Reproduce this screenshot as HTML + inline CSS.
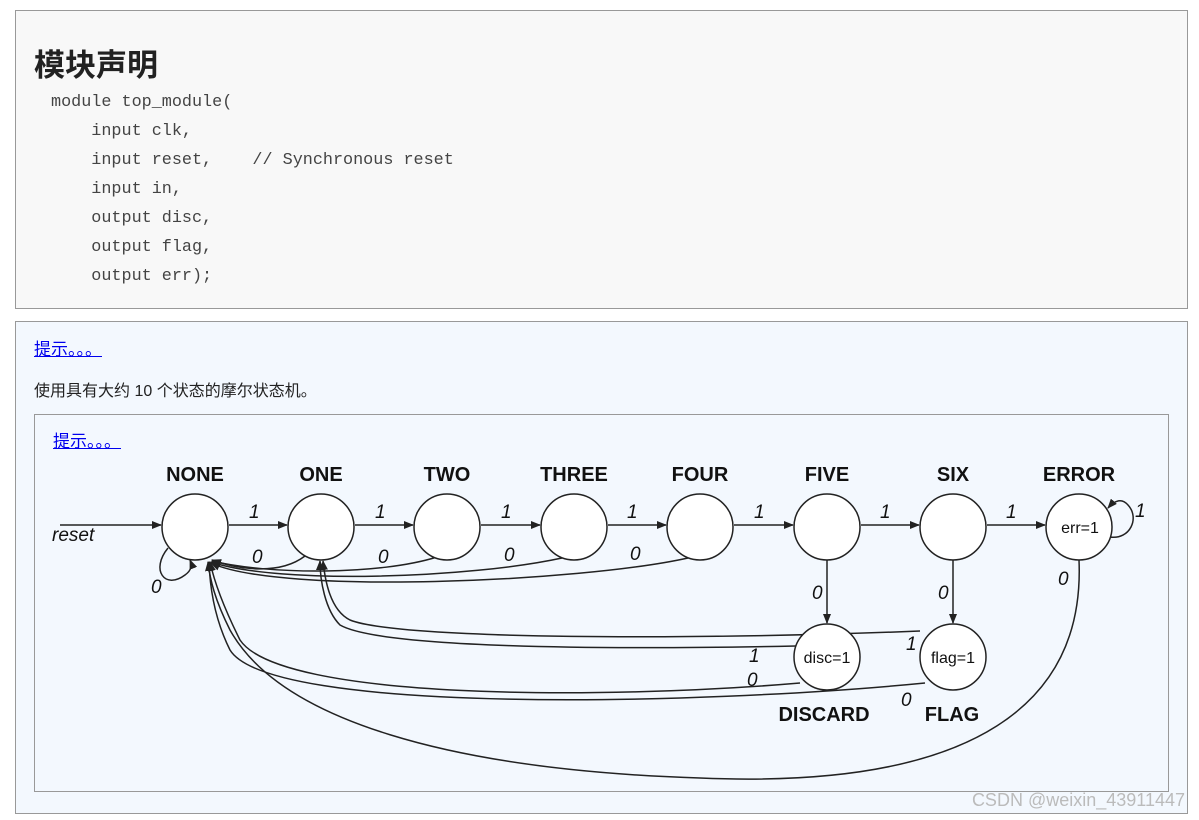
<!DOCTYPE html>
<html><head><meta charset="utf-8"><style>
body{margin:0;width:1199px;height:820px;background:#fff;position:relative;font-family:"Liberation Sans","Noto Sans CJK SC",sans-serif;overflow:hidden}
.b1{position:absolute;left:15px;top:10px;width:1171px;height:297px;background:#f8f8f8;border:1px solid #999}
.b2{position:absolute;left:15px;top:321px;width:1171px;height:491px;background:#f3f8fe;border:1px solid #999}
.b3{position:absolute;left:34px;top:414px;width:1133px;height:376px;border:1px solid #999}
h1{position:absolute;left:34px;top:40px;margin:0;font-size:31px;font-weight:bold;color:#222;font-family:"Liberation Sans","Noto Sans CJK SC",sans-serif}
pre{position:absolute;left:51px;top:88px;margin:0;font-family:"Liberation Mono",monospace;font-size:16.8px;line-height:29px;color:#444}
a{color:#00e;position:absolute;font-size:17px;text-decoration:underline}
.t{position:absolute;left:34px;top:377px;font-size:16px;color:#222}
.wm{position:absolute;right:14px;top:790px;font-size:18px;color:#bbb}
svg{position:absolute;left:0;top:0}
</style></head><body>
<div class="b1"></div><div class="b2"></div><div class="b3"></div>
<h1>模块声明</h1>
<pre>module top_module(
    input clk,
    input reset,    // Synchronous reset
    input in,
    output disc,
    output flag,
    output err);</pre>
<a style="left:34px;top:335px">提示。。。</a>
<div class="t">使用具有大约 10 个状态的摩尔状态机。</div>
<a style="left:53px;top:427px">提示。。。</a>
<div class="wm">CSDN @weixin_43911447</div>
<svg width="1199" height="820" viewBox="0 0 1199 820">
<defs><marker id="ar" markerWidth="10" markerHeight="8" refX="9" refY="4" orient="auto" markerUnits="userSpaceOnUse"><path d="M0,0L10,4L0,8z" fill="#222"/></marker></defs>
<g fill="none" stroke="#222" stroke-width="1.5">
<line x1="60" y1="525" x2="161" y2="525" marker-end="url(#ar)"/>
<line x1="229" y1="525" x2="287" y2="525" marker-end="url(#ar)"/>
<line x1="355" y1="525" x2="413" y2="525" marker-end="url(#ar)"/>
<line x1="481" y1="525" x2="540" y2="525" marker-end="url(#ar)"/>
<line x1="608" y1="525" x2="666" y2="525" marker-end="url(#ar)"/>
<line x1="734" y1="525" x2="793" y2="525" marker-end="url(#ar)"/>
<line x1="861" y1="525" x2="919" y2="525" marker-end="url(#ar)"/>
<line x1="987" y1="525" x2="1045" y2="525" marker-end="url(#ar)"/>
<line x1="827" y1="560" x2="827" y2="623" marker-end="url(#ar)"/>
<line x1="953" y1="560" x2="953" y2="623" marker-end="url(#ar)"/>
<path d="M168,548 C150,570 165,590 185,575 C192,570 192,565 190,560" marker-end="url(#ar)"/>
<path d="M1110,537 C1130,540 1140,518 1128,505 C1122,498 1115,500 1108,508" marker-end="url(#ar)"/>
<path d="M305,556 C280,575 240,570 212,560" marker-end="url(#ar)"/>
<path d="M437,557 C380,575 270,575 212,561" marker-end="url(#ar)"/>
<path d="M562,558 C470,578 280,585 211,562" marker-end="url(#ar)"/>
<path d="M688,558 C580,582 280,595 211,563" marker-end="url(#ar)"/>
<path d="M920,631 C700,640 400,640 350,620 C330,610 325,580 323,561" marker-end="url(#ar)"/>
<path d="M796,646 C600,650 380,648 340,625 C325,610 320,580 320,561" marker-end="url(#ar)"/>
<path d="M800,683 C600,700 280,700 240,640 C225,610 215,585 210,562" marker-end="url(#ar)"/>
<path d="M925,683 C700,705 270,715 230,650 C215,620 210,590 209,562" marker-end="url(#ar)"/>
<path d="M1079,560 C1085,700 980,790 700,778 C450,770 280,720 230,630 C215,600 210,580 208,562" marker-end="url(#ar)"/>
</g>
<g fill="#fff" stroke="#222" stroke-width="1.5">
<circle cx="195" cy="527" r="33"/><circle cx="321" cy="527" r="33"/><circle cx="447" cy="527" r="33"/><circle cx="574" cy="527" r="33"/><circle cx="700" cy="527" r="33"/><circle cx="827" cy="527" r="33"/><circle cx="953" cy="527" r="33"/><circle cx="1079" cy="527" r="33"/><circle cx="827" cy="657" r="33"/><circle cx="953" cy="657" r="33"/>
</g>
<g font-family="Liberation Sans,sans-serif" fill="#111">
<g font-weight="bold" font-size="20" text-anchor="middle">
<text x="195" y="481">NONE</text><text x="321" y="481">ONE</text><text x="447" y="481">TWO</text><text x="574" y="481">THREE</text><text x="700" y="481">FOUR</text><text x="827" y="481">FIVE</text><text x="953" y="481">SIX</text><text x="1079" y="481">ERROR</text><text x="824" y="721">DISCARD</text><text x="952" y="721">FLAG</text>
</g>
<g font-size="16" text-anchor="middle"><text x="1080" y="533">err=1</text><text x="827" y="663">disc=1</text><text x="953" y="663">flag=1</text></g>
<g font-style="italic" font-size="19">
<text x="52" y="541">reset</text>
<text x="249" y="518">1</text><text x="375" y="518">1</text><text x="501" y="518">1</text><text x="627" y="518">1</text><text x="754" y="518">1</text><text x="880" y="518">1</text><text x="1006" y="518">1</text><text x="1135" y="517">1</text>
<text x="151" y="593">0</text><text x="252" y="563">0</text><text x="378" y="563">0</text><text x="504" y="561">0</text><text x="630" y="560">0</text>
<text x="812" y="599">0</text><text x="938" y="599">0</text><text x="1058" y="585">0</text>
<text x="749" y="662">1</text><text x="747" y="686">0</text><text x="906" y="650">1</text><text x="901" y="706">0</text>
</g></g>
</svg>
</body></html>
